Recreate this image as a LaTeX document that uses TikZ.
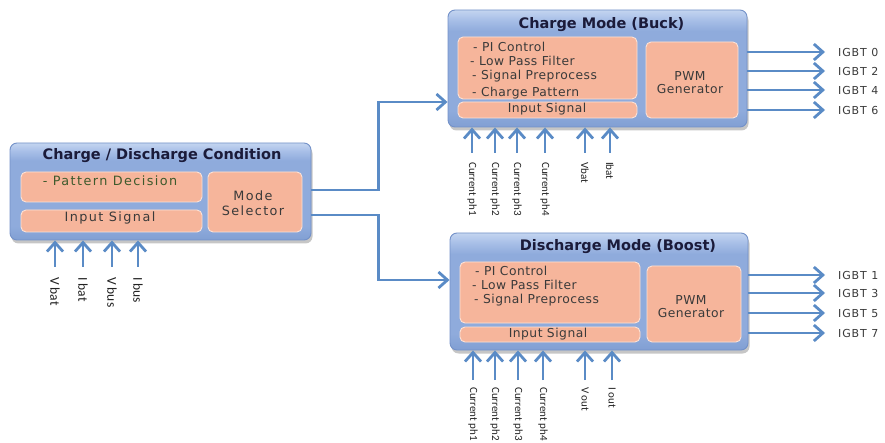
\documentclass[tikz,border=0pt]{standalone}
\usepackage{fontspec}
\setmainfont{DejaVu Sans}
\newfontfamily\ttlfont{DejaVu Sans}
\newfontfamily\rbfont[LetterSpace=4]{DejaVu Sans}
\newfontfamily\lbfont[LetterSpace=11]{DejaVu Sans}
\newfontfamily\igfont[LetterSpace=8]{DejaVu Sans}
\newfontfamily\calfont{Carlito}
\usetikzlibrary{arrows.meta,shadows}
\definecolor{bluetop}{HTML}{C4D5F0}
\definecolor{bluehl}{HTML}{A9C0E8}
\definecolor{bluemid}{HTML}{8FABDC}
\definecolor{bluebot}{HTML}{819FD3}
\definecolor{blueedge}{HTML}{7391C8}
\definecolor{salmon}{HTML}{F6B59B}
\definecolor{salmonedge}{HTML}{FCE2D6}
\definecolor{arrowblue}{HTML}{5A8BC6}
\definecolor{titlecol}{HTML}{1B1B3A}
\definecolor{txtcol}{HTML}{3A3A3A}
\definecolor{pdcol}{HTML}{3E5A2C}
\definecolor{labcol}{HTML}{222222}
\pgfdeclareverticalshading{boxshade}{100bp}{color(0bp)=(bluebot); color(25bp)=(bluebot); color(32bp)=(bluemid); color(66bp)=(bluemid); color(71bp)=(bluehl); color(75bp)=(bluetop); color(100bp)=(bluetop)}
\begin{document}
\begin{tikzpicture}[x=1pt,y=-1pt,
  outerbox/.style={draw=blueedge, line width=0.9pt, rounded corners=7pt,
    shading=boxshade,
    drop shadow={shadow xshift=1.5pt,shadow yshift=-3.5pt,opacity=0.45}, inner sep=0pt},
  innerbox/.style={draw=salmonedge, line width=0.9pt, fill=salmon, rounded corners=5pt, inner sep=0pt},
  arr/.style={draw=arrowblue, line width=2.8pt, -{Straight Barb[length=9pt,width=16pt,line width=2.8pt]}},
  titletxt/.style={font=\ttlfont\bfseries\fontsize{14.5}{17}\selectfont, text=titlecol, inner sep=0pt},
  rtxt/.style={font=\rbfont\fontsize{12.3}{13}\selectfont, text=txtcol, inner sep=0pt},
  ltxt/.style={font=\lbfont\fontsize{12.8}{14.5}\selectfont, text=txtcol, inner sep=0pt},
  igbt/.style={font=\igfont\fontsize{11}{13}\selectfont, text=txtcol, anchor=west, inner sep=0pt},
  vlabR/.style={font=\calfont\fontsize{11}{12}\selectfont, rotate=-90, anchor=west, inner sep=0pt, text=labcol},
  vlabL/.style={font=\calfont\fontsize{13.5}{15}\selectfont, rotate=-90, anchor=west, inner sep=0pt, text=labcol}
]
\useasboundingbox (0,0) rectangle (885,443);

% ---------- Charge / Discharge Condition ----------
\node[outerbox, minimum width=301pt, minimum height=97pt] (cond) at (160.5,191.5) {};
\node[titletxt] (condtitle) at (162,156) {Charge / Discharge Condition};
\node[innerbox, minimum width=181pt, minimum height=30pt] (pd) at (111.5,187) {};
\node[ltxt, text=pdcol] (pdtxt) at (110,181) {- Pattern Decision};
\node[innerbox, minimum width=181pt, minimum height=22pt] (cinpL) at (111.5,221) {};
\node[ltxt] (cinpLtxt) at (110,218) {Input Signal};
\node[innerbox, minimum width=94pt, minimum height=60pt] (mode) at (255,202) {};
\node[ltxt, align=center] (modetxt) at (253,203) {Mode\\Selector};

\foreach \x/\t [count=\i] in {55/V bat,83/I bat,112/V bus,138/I bus}{
  \node[vlabL] (lin\i) at (\x,277) {\t};
  \draw[arr] ([yshift=10pt]lin\i.west) -- (lin\i.west |- cond.south);
}

% ---------- Charge Mode (Buck) ----------
\node[outerbox, minimum width=299pt, minimum height=117pt] (charge) at (597.5,68.5) {};
\node[titletxt] (chargetitle) at (601.5,25) {Charge Mode (Buck)};
\node[innerbox, minimum width=179pt, minimum height=62pt] (cinner) at (547.5,68) {};
\node[rtxt, anchor=west] (c1) at (473,47) {- PI Control};
\node[rtxt, anchor=west] (c2) at (470,61) {- Low Pass Filter};
\node[rtxt, anchor=west] (c3) at (472,76) {- Signal Preprocess};
\node[rtxt, anchor=west] (c4) at (472,93) {- Charge Pattern};
\node[innerbox, minimum width=179pt, minimum height=16pt] (cinp) at (547.5,110) {};
\node[rtxt] (cinptxt) at (547,109) {Input Signal};
\node[innerbox, minimum width=92pt, minimum height=76pt] (cpwm) at (692,80) {};
\node[rtxt, align=center] (cpwmtxt) at (690,83) {PWM\\Generator};

\foreach \n/\y in {0/52,2/71,4/90,6/110}{
  \node[igbt] (ig\n) at (838,\y) {IGBT \n};
  \draw[arr] (charge.east |- ig\n.west) -- ([xshift=-13pt]ig\n.west);
}
\foreach \x/\t [count=\i] in {472/Current ph1,495/Current ph2,517/Current ph3,545/Current ph4,585/Vbat,610/Ibat}{
  \node[vlabR] (cin\i) at (\x,162) {\t};
  \draw[arr] ([yshift=9pt]cin\i.west) -- (cin\i.west |- charge.south);
}

% ---------- Discharge Mode (Boost) ----------
\node[outerbox, minimum width=298pt, minimum height=117pt] (dis) at (599,291.5) {};
\node[titletxt] (distitle) at (618,247) {Discharge Mode (Boost)};
\node[innerbox, minimum width=180pt, minimum height=61pt] (dinner) at (550,292.5) {};
\node[rtxt, anchor=west] (d1) at (475,271) {- PI Control};
\node[rtxt, anchor=west] (d2) at (472,285) {- Low Pass Filter};
\node[rtxt, anchor=west] (d3) at (474,300) {- Signal Preprocess};
\node[innerbox, minimum width=180pt, minimum height=15pt] (dinp) at (550,334.5) {};
\node[rtxt] (dinptxt) at (548,334) {Input Signal};
\node[innerbox, minimum width=94pt, minimum height=76pt] (dpwm) at (694,304) {};
\node[rtxt, align=center] (dpwmtxt) at (691,307) {PWM\\Generator};

\foreach \n/\y in {1/275,3/293,5/313,7/333}{
  \node[igbt] (ig\n) at (838,\y) {IGBT \n};
  \draw[arr] (dis.east |- ig\n.west) -- ([xshift=-13pt]ig\n.west);
}
\foreach \x/\t [count=\i] in {473/Current ph1,495/Current ph2,518/Current ph3,543/Current ph4,585/V out,612/I out}{
  \node[vlabR] (din\i) at (\x,387) {\t};
  \draw[arr] ([yshift=7pt]din\i.west) -- (din\i.west |- dis.south);
}

% ---------- connectors from the mode selector ----------
\draw[arr] ([yshift=1.5pt]cond.east) -- ++(67,0) |- ([yshift=-33.5pt]charge.west);
\draw[arr] ([yshift=-23.5pt]cond.east) -- ++(67,0) |- ([yshift=11.5pt]dis.west);
\end{tikzpicture}
\end{document}
